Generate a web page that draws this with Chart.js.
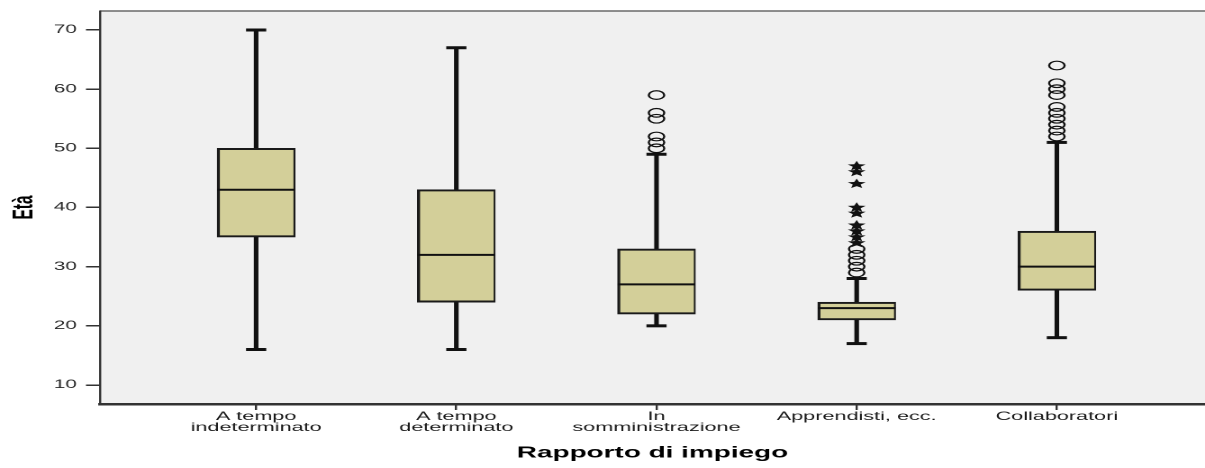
<!DOCTYPE html>
<html>
<head>
<meta charset="utf-8">
<script src="https://cdn.jsdelivr.net/npm/chart.js@4"></script>
<style>
html, body { margin: 0; padding: 0; background: #fff; overflow: hidden; }
/* the reference is a horizontally stretched SPSS picture: draw narrow, show wide */
#graph { width: 1205px; height: 468px; display: block; }
</style>
</head>
<body>
<canvas id="graph" width="669" height="468" style="width:1205px;height:468px"></canvas>
<script>
const categories = [['A tempo', 'indeterminato'], ['A tempo', 'determinato'], ['In', 'somministrazione'], 'Apprendisti, ecc.', 'Collaboratori'];
const whiskerLow = [16, 16, 20, 17, 18];
const q1 = [35, 24, 22, 21, 26];
const medians = [43, 32, 27, 23, 30];
const q3 = [50, 43, 33, 24, 36];
const whiskerHigh = [70, 67, 49, 28, 51];
const outliers = [[], [], [50, 51, 52, 55, 56, 59], [29, 30, 31, 32, 33], [52, 53, 54, 55, 56, 57, 59, 60, 61, 64]];
const extremes = [[], [], [], [34, 35, 36, 37, 39, 40, 44, 46, 47], []];
const yTicks = [10, 20, 30, 40, 50, 60, 70];

Chart.defaults.font.family = "'Liberation Sans', Arial, sans-serif";

const boxFill = '#d3cf99';
const ink = '#111';

function points(lists) {
    const out = [];
    lists.forEach((list, i) => list.forEach(v => out.push({x: i, y: v})));
    return out;
}

const whiskerData = whiskerLow.map((lo, i) => ({x: i, y: [lo, whiskerHigh[i]]}));
const boxData = q1.map((lo, i) => ({x: i, y: [lo, q3[i]]}));
const medianData = medians.map((m, i) => ({x: i, y: m}));
const capData = whiskerLow.map((lo, i) => ({x: i, y: lo})).concat(whiskerHigh.map((hi, i) => ({x: i, y: hi})));

function drawStar(ctx, x, y, r1, r2) {
    ctx.beginPath();
    for (let k = 0; k < 10; k++) {
        const r = k % 2 ? r2 : r1;
        const a = -Math.PI / 2 + k * Math.PI / 5;
        const px = x + r * Math.cos(a), py = y + r * Math.sin(a);
        if (k) ctx.lineTo(px, py); else ctx.moveTo(px, py);
    }
    ctx.closePath();
    ctx.fill();
}

// fixed axis sizes, no extra label padding
function fixSize(axis, w, h) {
    if (w !== null) axis.width = w;
    if (h !== null) axis.height = h;
    axis.paddingLeft = axis.paddingRight = axis.paddingTop = axis.paddingBottom = 0;
}

const plotBg = {
    id: 'plotBg',
    beforeDraw(chart) {
        const {ctx, chartArea: a} = chart;
        ctx.save();
        ctx.fillStyle = '#f0f0f0';
        ctx.fillRect(a.left, a.top, a.right - a.left, a.bottom - a.top);
        ctx.strokeStyle = '#6a6a6a';
        ctx.lineWidth = 1.5;
        ctx.beginPath();
        ctx.moveTo(a.left, a.top);
        ctx.lineTo(a.right, a.top);
        ctx.stroke();
        ctx.restore();
    },
    afterDatasetsDraw(chart) {
        // extreme values as stars, placed where the library put the points
        const meta = chart.getDatasetMeta(chart.data.datasets.length - 1);
        const ctx = chart.ctx;
        ctx.save();
        ctx.fillStyle = ink;
        meta.data.forEach(p => drawStar(ctx, p.x, p.y, 5.2, 2.3));
        ctx.restore();
    }
};

const config = {
    type: 'scatter',
    data: {
        datasets: [
            {
                type: 'bar',
                data: whiskerData,
                backgroundColor: ink,
                borderWidth: 0,
                barThickness: 1.9,
                grouped: false,
                order: 4
            },
            {
                type: 'bar',
                data: boxData,
                backgroundColor: boxFill,
                borderColor: '#1a1a1a',
                borderWidth: {top: 2, bottom: 2, left: 1.7, right: 1.1},
                borderSkipped: false,
                barThickness: 43,
                grouped: false,
                order: 3
            },
            {
                data: medianData,
                pointStyle: 'line',
                pointRadius: 21.5,
                borderColor: ink,
                borderWidth: 2,
                order: 2
            },
            {
                data: capData,
                pointStyle: 'line',
                pointRadius: 5.6,
                borderColor: ink,
                borderWidth: 3,
                order: 2
            },
            {
                data: points(outliers),
                pointStyle: 'circle',
                pointRadius: 4.3,
                borderColor: ink,
                backgroundColor: 'rgba(0,0,0,0)',
                borderWidth: 1.2,
                order: 1
            },
            {
                data: points(extremes),
                pointRadius: 0,
                order: 0
            }
        ]
    },
    options: {
        responsive: false,
        devicePixelRatio: 2,
        animation: false,
        events: [],
        layout: {autoPadding: false, padding: {top: 11, left: 0, right: 0, bottom: 0}},
        plugins: {legend: {display: false}, tooltip: {enabled: false}},
        scales: {
            x: {
                type: 'linear',
                min: -0.78,
                max: 4.74,
                offset: false,
                afterFit: (axis) => fixSize(axis, null, 64),
                afterBuildTicks: (axis) => { axis.ticks = categories.map((c, i) => ({value: i})); },
                border: {display: true, color: '#333', width: 2.5},
                grid: {drawOnChartArea: false, drawTicks: true, tickLength: 6, offset: false, color: '#333', lineWidth: 1.2},
                ticks: {
                    autoSkip: false,
                    maxRotation: 0,
                    padding: 1,
                    color: '#1a1a1a',
                    font: {size: 12, lineHeight: 0.92},
                    callback: (v) => categories[v]
                },
                title: {
                    display: true,
                    text: 'Rapporto di impiego',
                    color: '#000',
                    font: {size: 15.5, weight: 'bold'},
                    padding: {top: 0, bottom: 5.5}
                }
            },
            y: {
                type: 'linear',
                min: 6.79,
                max: 73.21,
                afterFit: (axis) => fixSize(axis, 55.5, null),
                afterBuildTicks: (axis) => { axis.ticks = yTicks.map(v => ({value: v})); },
                border: {display: true, color: '#333', width: 1.2},
                grid: {drawOnChartArea: false, drawTicks: true, tickLength: 7.8, color: '#333', lineWidth: 1.5},
                ticks: {padding: 5, color: '#2a2a2a', font: {size: 11.5}, callback: (v) => String(v)},
                title: {
                    display: true,
                    text: 'Età',
                    color: '#000',
                    font: {size: 15.5, weight: 'bold'},
                    padding: {top: 4.6, bottom: 0}
                }
            }
        }
    },
    plugins: [plotBg]
};

const graph = document.querySelector('#graph');
new Chart(graph, config);
</script>
</body>
</html>
